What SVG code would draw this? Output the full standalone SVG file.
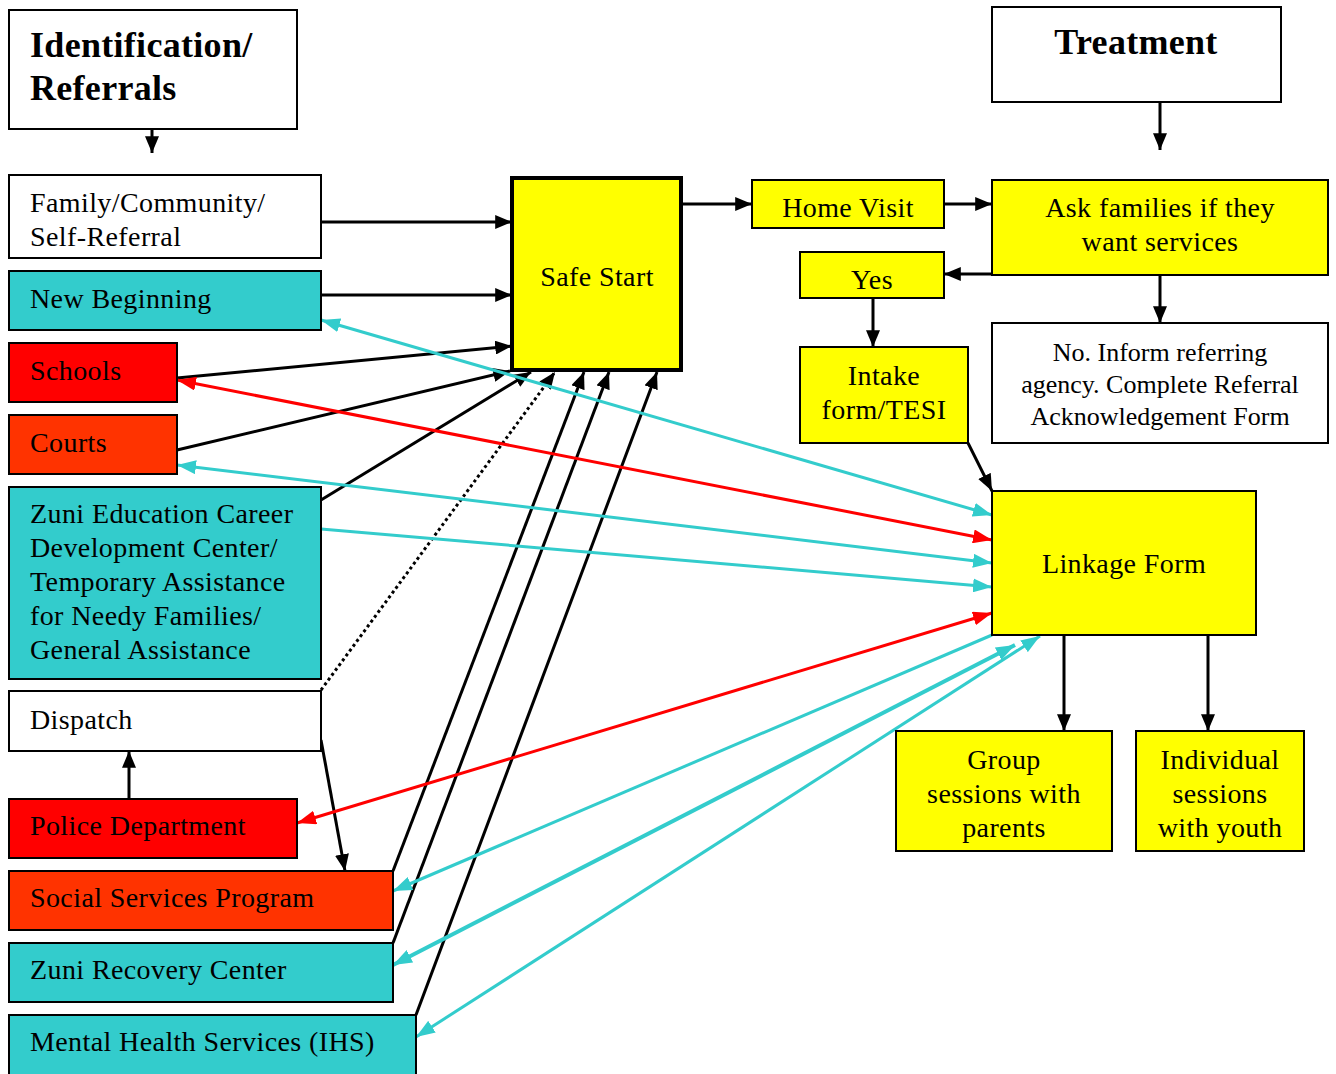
<svg xmlns="http://www.w3.org/2000/svg" width="1336" height="1074" viewBox="0 0 1336 1074">
<style>
text{font-family:"Liberation Serif","Times New Roman",serif;font-size:28px;fill:#000;letter-spacing:0.4px}
.t{font-weight:bold;font-size:36px;letter-spacing:0.3px}
.c{text-anchor:middle}
.s{font-size:26px;letter-spacing:0}
rect{stroke:#000;stroke-width:2}
.w{fill:#fff}.y{fill:#ffff00}.cy{fill:#33cccc}.r{fill:#ff0000}.o{fill:#ff3300}
.k{stroke:#000;stroke-width:3;fill:none;marker-end:url(#ak)}
.kd{stroke:#000;stroke-width:3;fill:none;stroke-dasharray:3,3;marker-end:url(#ak)}
.cl{stroke:#33cccc;stroke-width:3;fill:none}
.rl{stroke:#ff0000;stroke-width:3;fill:none}
</style>
<defs>
<marker id="ak" viewBox="0 0 12 10" refX="12" refY="5" markerWidth="17" markerHeight="14" markerUnits="userSpaceOnUse" orient="auto-start-reverse"><path d="M0,0L12,5L0,10z" fill="#000"/></marker>
<marker id="ac" viewBox="0 0 12 10" refX="12" refY="5" markerWidth="19" markerHeight="14" markerUnits="userSpaceOnUse" orient="auto-start-reverse" preserveAspectRatio="none"><path d="M0,0L12,5L0,10z" fill="#33cccc"/></marker>
<marker id="ar" viewBox="0 0 12 10" refX="12" refY="5" markerWidth="19" markerHeight="14" markerUnits="userSpaceOnUse" orient="auto-start-reverse" preserveAspectRatio="none"><path d="M0,0L12,5L0,10z" fill="#ff0000"/></marker>
</defs>

<g id="connectors">
<path class="k" d="M152,129V153"/>
<path class="k" d="M1160,102V150"/>
<path class="k" d="M321,222H512"/>
<path class="k" d="M321,295H512"/>
<path class="k" d="M177,378L512,346"/>
<path class="k" d="M177,450L510,371"/>
<path class="k" d="M321,500L531,372"/>
<path class="kd" d="M321,690L555,372"/>
<path class="k" d="M393,871L584,372"/>
<path class="k" d="M393,943L609,372"/>
<path class="k" d="M416,1015L657,372"/>
<path class="k" d="M681,204H752"/>
<path class="k" d="M944,204H992"/>
<path class="k" d="M992,274H944"/>
<path class="k" d="M1160,275V323"/>
<path class="k" d="M873,298V347"/>
<path class="k" d="M968,443L992,491"/>
<path class="k" d="M1064,635V731"/>
<path class="k" d="M1208,635V731"/>
<path class="k" d="M321,740L345,871"/>
<path class="k" d="M129,799V751"/>
<path class="cl" d="M321,320L992,515" marker-start="url(#ac)" marker-end="url(#ac)"/>
<path class="cl" d="M177,465L992,563" marker-start="url(#ac)" marker-end="url(#ac)"/>
<path class="cl" d="M321,529L992,587" marker-end="url(#ac)"/>
<path class="cl" d="M992,635L393,891" marker-end="url(#ac)"/>
<path class="cl" d="M393,965L1015,645" marker-start="url(#ac)" marker-end="url(#ac)" style="stroke-width:4"/>
<path class="cl" d="M416,1037L1040,636" marker-start="url(#ac)" marker-end="url(#ac)"/>
<path class="rl" d="M177,380L992,540" marker-start="url(#ar)" marker-end="url(#ar)"/>
<path class="rl" d="M297,823L992,613" marker-start="url(#ar)" marker-end="url(#ar)"/>
</g>

<g id="n-ident"><rect class="w" x="9" y="10" width="288" height="119"/><text class="t" x="30" y="57">Identification/</text><text class="t" x="30" y="100">Referrals</text></g>
<g id="n-treat"><rect class="w" x="992" y="7" width="289" height="95"/><text class="t c" x="1136" y="54">Treatment</text></g>
<g id="n-family"><rect class="w" x="9" y="175" width="312" height="83"/><text x="30" y="212">Family/Community/</text><text x="30" y="246">Self-Referral</text></g>
<g id="n-newbeg"><rect class="cy" x="9" y="271" width="312" height="59"/><text x="30" y="308">New Beginning</text></g>
<g id="n-schools"><rect class="r" x="9" y="343" width="168" height="59"/><text x="30" y="380">Schools</text></g>
<g id="n-courts"><rect class="o" x="9" y="415" width="168" height="59"/><text x="30" y="452">Courts</text></g>
<g id="n-zuniedu"><rect class="cy" x="9" y="487" width="312" height="192"/><text x="30" y="523">Zuni Education Career</text><text x="30" y="557">Development Center/</text><text x="30" y="591">Temporary Assistance</text><text x="30" y="625">for Needy Families/</text><text x="30" y="659">General Assistance</text></g>
<g id="n-dispatch"><rect class="w" x="9" y="691" width="312" height="60"/><text x="30" y="729">Dispatch</text></g>
<g id="n-police"><rect class="r" x="9" y="799" width="288" height="59"/><text x="30" y="835">Police Department</text></g>
<g id="n-social"><rect class="o" x="9" y="871" width="384" height="59"/><text x="30" y="907">Social Services Program</text></g>
<g id="n-recovery"><rect class="cy" x="9" y="943" width="384" height="59"/><text x="30" y="979">Zuni Recovery Center</text></g>
<g id="n-mental"><rect class="cy" x="9" y="1015" width="407" height="62"/><text x="30" y="1051">Mental Health Services (IHS)</text></g>
<g id="n-safestart"><rect class="y" x="512" y="178" width="169" height="192" style="stroke-width:4"/><text class="c" x="597" y="286">Safe Start</text></g>
<g id="n-homevisit"><rect class="y" x="752" y="180" width="192" height="48"/><text class="c" x="848" y="217">Home Visit</text></g>
<g id="n-ask"><rect class="y" x="992" y="180" width="336" height="95"/><text class="c" x="1160" y="217">Ask families if they</text><text class="c" x="1160" y="251">want services</text></g>
<g id="n-yes"><rect class="y" x="800" y="252" width="144" height="46"/><text class="c" x="872" y="289">Yes</text></g>
<g id="n-intake"><rect class="y" x="800" y="347" width="168" height="96"/><text class="c" x="884" y="385">Intake</text><text class="c" x="884" y="419">form/TESI</text></g>
<g id="n-no"><rect class="w" x="992" y="323" width="336" height="120"/><text class="c s" x="1160" y="361">No. Inform referring</text><text class="c s" x="1160" y="393">agency. Complete Referral</text><text class="c s" x="1160" y="425">Acknowledgement Form</text></g>
<g id="n-linkage"><rect class="y" x="992" y="491" width="264" height="144"/><text class="c" x="1124" y="573">Linkage Form</text></g>
<g id="n-group"><rect class="y" x="896" y="731" width="216" height="120"/><text class="c" x="1004" y="769">Group</text><text class="c" x="1004" y="803">sessions with</text><text class="c" x="1004" y="837">parents</text></g>
<g id="n-indiv"><rect class="y" x="1136" y="731" width="168" height="120"/><text class="c" x="1220" y="769">Individual</text><text class="c" x="1220" y="803">sessions</text><text class="c" x="1220" y="837">with youth</text></g>
</svg>
